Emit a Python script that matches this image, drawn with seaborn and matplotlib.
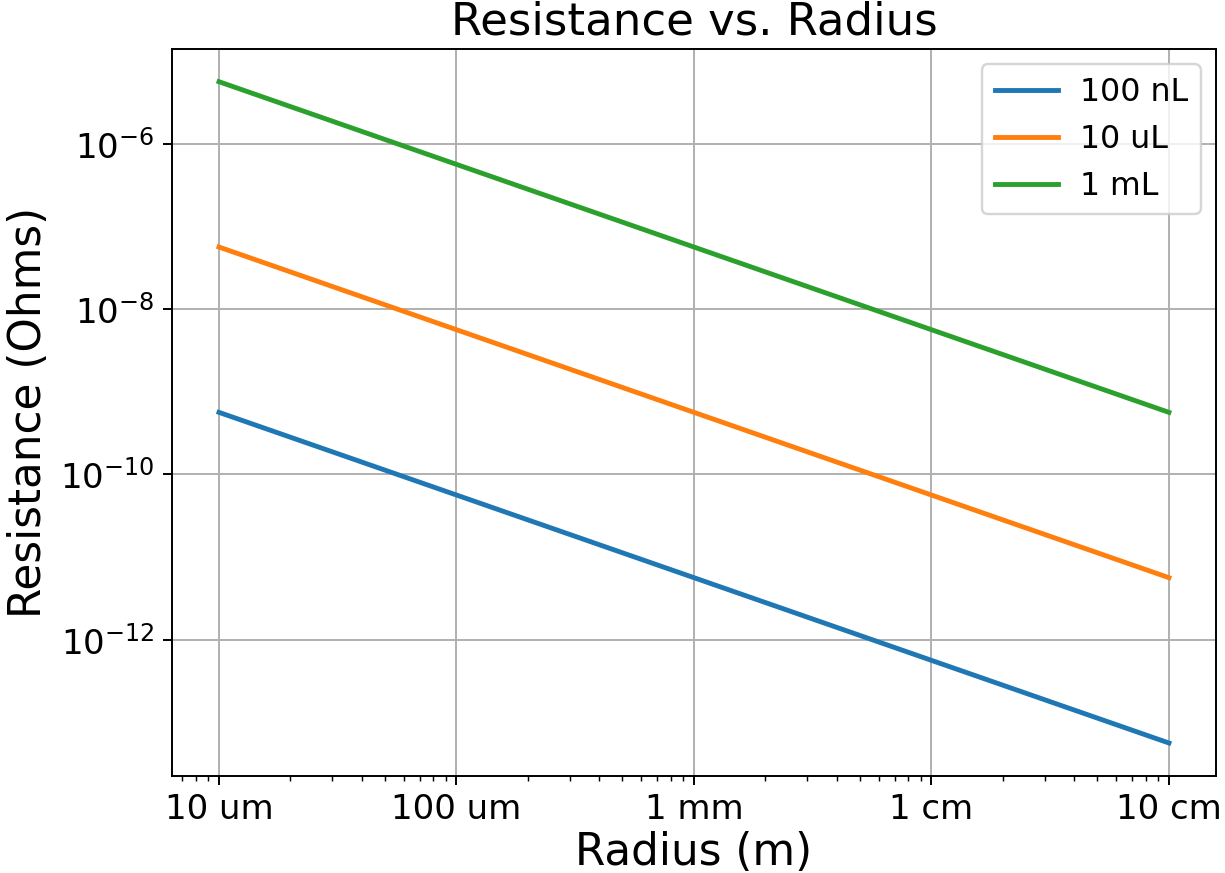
import numpy as np
import pandas as pd
import matplotlib
matplotlib.use("Agg")
import matplotlib.pyplot as plt
import matplotlib.ticker as mticker
import seaborn as sns

radius = [1e-5, 1e-4, 1e-3, 1e-2, 1e-1]
r_100nL = [5.6e-10, 5.6e-11, 5.6e-12, 5.6e-13, 5.6e-14]
r_10uL = [5.6e-8, 5.6e-9, 5.6e-10, 5.6e-11, 5.6e-12]
r_1mL = [5.6e-6, 5.6e-7, 5.6e-8, 5.6e-9, 5.6e-10]
series_names = ["100 nL", "10 uL", "1 mL"]
x_tick_vals = [1e-5, 1e-4, 1e-3, 1e-2, 1e-1]
x_tick_labels = ["10 um", "100 um", "1 mm", "1 cm", "10 cm"]
y_tick_vals = [1e-6, 1e-8, 1e-10, 1e-12]

df = pd.DataFrame({
    "radius": radius * 3,
    "resistance": r_100nL + r_10uL + r_1mL,
    "volume": [series_names[0]] * 5 + [series_names[1]] * 5 + [series_names[2]] * 5,
})

fig, ax = plt.subplots(figsize=(7.0, 4.99), dpi=175)
fig.subplots_adjust(left=0.140, right=0.993, top=0.944, bottom=0.111)

sns.lineplot(data=df, x="radius", y="resistance", hue="volume",
             hue_order=series_names,
             palette=["#1f77b4", "#ff7f0e", "#2ca02c"],
             linewidth=2, ax=ax)
ax.set_xscale("log")
ax.set_yscale("log")
ax.grid(True, which="major", color="#b0b0b0", linewidth=0.8)
ax.xaxis.set_major_locator(mticker.FixedLocator(x_tick_vals))
ax.xaxis.set_major_formatter(mticker.FixedFormatter(x_tick_labels))
ax.yaxis.set_major_locator(mticker.FixedLocator(y_tick_vals))
ax.yaxis.set_major_formatter(mticker.LogFormatterSciNotation())
ax.yaxis.set_minor_locator(mticker.NullLocator())
ax.tick_params(axis="both", which="major", labelsize=14)
ax.set_title("Resistance vs. Radius", fontsize=18.5)
ax.set_xlabel("Radius (m)", fontsize=18, labelpad=2)
ax.set_ylabel("Resistance (Ohms)", fontsize=18)
ax.legend(title=None, fontsize=13, loc="upper right", handletextpad=0.7)

fig.savefig("out.png", dpi=175)
